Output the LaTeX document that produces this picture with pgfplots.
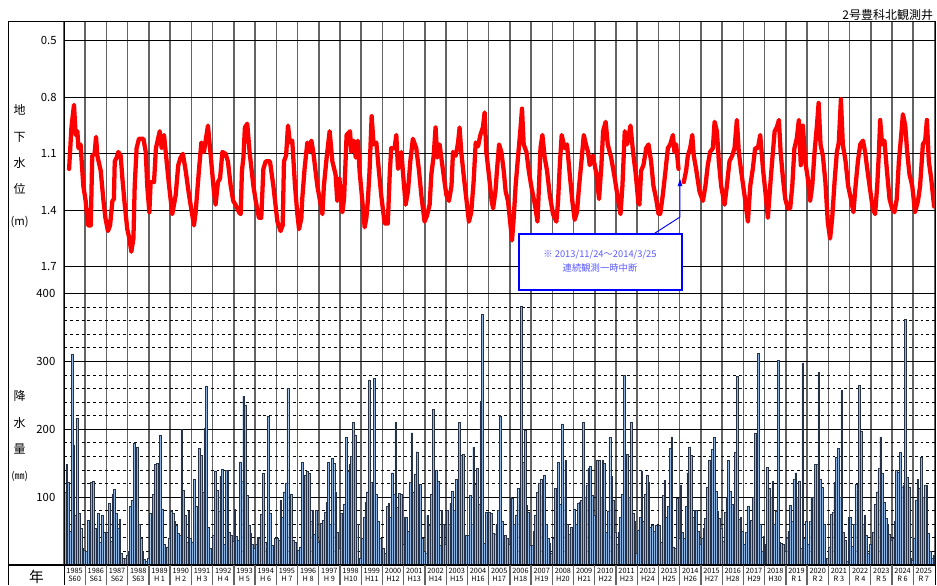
\documentclass[border=0pt]{standalone}
\usepackage{fontspec}
\setmainfont{Noto Sans CJK JP}
\usepackage{pgfplots}
\usepackage{pgfplotstable}
\pgfplotsset{compat=1.18}
\definecolor{barfill}{RGB}{141,180,226}
\definecolor{barline}{RGB}{40,50,70}
\definecolor{annot}{RGB}{0,0,255}
\definecolor{annottext}{RGB}{90,90,255}
\definecolor{vgrid}{RGB}{100,100,100}

\pgfplotstableread{
t v
1985.24 1.18
1985.35 0.96
1985.47 0.84
1985.55 1.00
1985.63 0.98
1985.68 1.07
1985.78 1.05
1985.91 1.27
1986.02 1.35
1986.13 1.48
1986.26 1.48
1986.33 1.11
1986.44 1.10
1986.51 1.01
1986.57 1.11
1986.73 1.19
1986.85 1.34
1986.95 1.44
1987.07 1.51
1987.17 1.48
1987.28 1.35
1987.35 1.34
1987.39 1.14
1987.48 1.12
1987.56 1.09
1987.67 1.11
1987.75 1.23
1987.86 1.37
1987.98 1.50
1988.08 1.55
1988.17 1.62
1988.27 1.55
1988.33 1.27
1988.42 1.07
1988.53 1.02
1988.74 1.02
1988.85 1.09
1988.92 1.27
1989.02 1.41
1989.08 1.25
1989.24 1.25
1989.33 1.07
1989.51 0.98
1989.60 1.07
1989.71 1.00
1989.79 1.09
1989.95 1.27
1990.10 1.42
1990.26 1.32
1990.38 1.16
1990.49 1.12
1990.60 1.10
1990.73 1.19
1990.89 1.32
1991.12 1.48
1991.20 1.41
1991.36 1.18
1991.47 1.04
1991.59 1.09
1991.78 0.95
1991.91 1.11
1992.06 1.30
1992.14 1.37
1992.25 1.25
1992.35 1.23
1992.46 1.09
1992.61 1.10
1992.72 1.14
1992.85 1.27
1992.97 1.35
1993.08 1.37
1993.24 1.41
1993.32 1.42
1993.38 1.19
1993.45 1.12
1993.52 0.96
1993.63 0.94
1993.74 1.09
1993.92 1.27
1994.03 1.35
1994.18 1.44
1994.29 1.44
1994.39 1.18
1994.50 1.14
1994.70 1.14
1994.86 1.27
1995.05 1.46
1995.20 1.51
1995.30 1.48
1995.36 1.14
1995.46 1.11
1995.55 0.95
1995.64 1.04
1995.75 1.03
1995.88 1.27
1995.99 1.42
1996.07 1.50
1996.18 1.44
1996.22 1.34
1996.33 1.18
1996.46 1.04
1996.54 1.09
1996.65 1.03
1996.74 1.09
1996.93 1.27
1997.17 1.42
1997.24 1.27
1997.37 1.12
1997.51 0.98
1997.64 1.14
1997.79 1.21
1997.87 1.35
1997.97 1.23
1998.11 1.41
1998.19 1.34
1998.31 1.00
1998.47 0.98
1998.53 1.09
1998.64 1.03
1998.74 1.12
1998.84 1.03
1998.92 1.19
1999.05 1.35
1999.16 1.49
1999.24 1.44
1999.31 1.35
1999.39 1.19
1999.49 0.90
1999.58 1.05
1999.71 1.04
1999.83 1.19
1999.94 1.32
2000.10 1.47
2000.25 1.47
2000.34 1.21
2000.41 1.07
2000.57 1.07
2000.65 1.00
2000.73 1.18
2000.89 1.09
2001.00 1.25
2001.09 1.37
2001.20 1.30
2001.31 1.14
2001.43 1.02
2001.59 1.07
2001.72 1.19
2001.83 1.32
2001.98 1.46
2002.09 1.43
2002.22 1.37
2002.30 1.21
2002.41 1.11
2002.50 0.96
2002.58 1.12
2002.69 1.05
2002.77 1.12
2002.90 1.23
2003.01 1.32
2003.13 1.35
2003.25 1.27
2003.32 1.09
2003.45 1.11
2003.56 1.04
2003.63 0.96
2003.71 1.09
2003.82 1.21
2003.95 1.34
2004.07 1.46
2004.18 1.41
2004.29 1.25
2004.39 1.04
2004.50 1.06
2004.61 1.00
2004.73 0.96
2004.81 0.88
2004.89 1.09
2005.03 1.23
2005.14 1.35
2005.21 1.39
2005.32 1.30
2005.39 1.19
2005.49 1.05
2005.60 1.09
2005.71 1.19
2005.80 1.30
2005.91 1.35
2006.03 1.48
2006.10 1.56
2006.18 1.44
2006.27 1.27
2006.38 1.12
2006.49 0.98
2006.57 0.86
2006.65 1.05
2006.78 1.09
2006.89 1.19
2007.02 1.28
2007.18 1.37
2007.30 1.46
2007.37 1.27
2007.44 1.07
2007.53 1.00
2007.64 1.12
2007.75 1.19
2007.88 1.32
2008.03 1.42
2008.19 1.46
2008.27 1.35
2008.35 1.16
2008.44 1.00
2008.58 1.07
2008.69 1.05
2008.82 1.21
2008.94 1.35
2009.05 1.45
2009.16 1.41
2009.26 1.27
2009.37 1.14
2009.48 1.00
2009.58 1.05
2009.68 1.09
2009.76 1.16
2009.91 1.11
2010.08 1.21
2010.20 1.34
2010.31 1.16
2010.39 0.98
2010.51 0.93
2010.61 1.05
2010.77 1.12
2010.94 1.23
2011.09 1.34
2011.21 1.42
2011.30 1.27
2011.41 0.98
2011.52 1.05
2011.68 0.95
2011.80 1.09
2011.93 1.21
2012.05 1.36
2012.10 1.37
2012.18 1.19
2012.29 1.16
2012.42 1.07
2012.53 1.05
2012.65 1.14
2012.76 1.27
2012.89 1.34
2013.00 1.42
2013.08 1.42
2013.20 1.32
2013.31 1.21
2013.44 1.07
2013.55 1.05
2013.68 1.00
2013.75 1.09
2013.83 1.05
2013.94 1.18
2014.05 nan
2014.19 1.25
2014.30 1.19
2014.38 1.11
2014.49 1.07
2014.59 1.00
2014.66 1.11
2014.77 1.18
2014.93 1.30
2015.09 1.35
2015.21 1.27
2015.32 1.16
2015.43 1.09
2015.56 1.07
2015.64 0.93
2015.75 0.98
2015.84 1.14
2015.95 1.27
2016.11 1.37
2016.22 1.27
2016.34 1.14
2016.47 1.11
2016.58 1.07
2016.69 0.92
2016.78 1.09
2016.89 1.19
2017.05 1.32
2017.21 1.46
2017.32 1.27
2017.44 1.18
2017.55 1.07
2017.68 1.07
2017.79 1.00
2017.92 1.18
2018.05 1.32
2018.15 1.44
2018.26 1.27
2018.35 1.14
2018.47 0.98
2018.57 0.96
2018.67 0.92
2018.75 1.09
2018.86 1.23
2018.97 1.34
2019.09 1.39
2019.20 1.39
2019.30 1.27
2019.40 1.07
2019.51 1.02
2019.61 0.92
2019.70 1.16
2019.80 0.95
2019.91 1.14
2020.03 1.23
2020.14 1.35
2020.24 1.27
2020.35 1.09
2020.46 0.95
2020.54 0.83
2020.63 1.05
2020.74 1.11
2020.86 1.25
2020.97 1.46
2021.08 1.55
2021.18 1.44
2021.29 1.25
2021.40 1.09
2021.49 1.04
2021.59 0.81
2021.68 1.05
2021.81 1.14
2021.93 1.27
2022.08 1.35
2022.18 1.41
2022.28 1.27
2022.39 1.14
2022.50 1.05
2022.63 1.03
2022.73 1.09
2022.83 1.18
2022.94 1.27
2023.09 1.39
2023.20 1.42
2023.30 1.27
2023.38 1.09
2023.44 0.92
2023.53 1.05
2023.64 1.03
2023.75 1.18
2023.88 1.34
2024.00 1.39
2024.11 1.41
2024.22 1.34
2024.32 1.14
2024.43 1.00
2024.51 0.89
2024.62 0.95
2024.71 1.09
2024.82 1.21
2024.95 1.27
2025.08 1.41
2025.22 1.35
2025.32 1.27
2025.45 1.05
2025.56 1.03
2025.64 0.92
2025.73 1.14
2025.84 1.23
2025.98 1.38
}\water

\pgfplotstableread{
yr m1 m2 m3 m4 m5 m6 m7 m8 m9 m10 m11 m12
1985 108 148 122 50 310 176 73 217 76 54 25 22
1986 20 66 50 122 124 54 46 76 34 74 48 37
1987 49 91 35 105 112 76 54 68 17 10 10 15
1988 20 86 95 180 119 173 60 40 20 8 5 10
1989 76 70 104 148 150 120 191 83 30 25 27 40
1990 80 77 65 59 47 44 200 110 73 34 79 40
1991 34 126 86 60 172 162 108 201 264 56 25 20
1992 44 139 110 80 131 141 30 140 140 49 44 35
1993 82 42 37 152 123 249 236 103 59 47 30 25
1994 30 41 40 75 135 34 27 219 76 29 22 40
1995 40 37 96 70 108 121 261 45 105 37 34 20
1996 22 27 151 100 133 138 135 65 81 45 81 34
1997 37 61 66 78 92 152 60 157 150 108 49 25
1998 76 71 90 188 138 148 160 210 192 60 10 10
1999 39 70 93 108 273 122 118 275 105 65 40 22
2000 25 17 86 91 70 136 105 210 85 106 105 30
2001 70 71 50 122 195 108 134 167 49 119 40 20
2002 17 73 59 105 229 49 140 123 29 81 60 30
2003 81 60 91 109 81 126 100 210 162 163 25 44
2004 44 103 60 174 119 142 90 241 369 32 78 40
2005 78 76 47 45 60 81 220 64 40 44 39 30
2006 100 98 60 74 113 90 382 151 199 88 78 29
2007 29 50 74 107 120 126 103 132 60 39 32 17
2008 40 113 80 152 90 208 100 154 60 45 56 25
2009 83 60 91 93 96 211 100 118 142 145 103 74
2010 60 155 154 100 155 150 48 80 188 131 96 49
2011 30 49 70 105 280 163 163 100 211 76 64 17
2012 52 70 139 64 105 132 122 56 59 50 59 30
2013 59 34 103 125 70 86 172 189 27 25 98 40
2014 118 48 39 86 136 174 162 70 81 81 50 30
2015 40 54 69 114 155 90 170 188 109 80 69 55
2016 35 78 100 154 109 90 67 166 278 68 71 50
2017 30 49 86 65 66 100 194 124 312 60 20 42
2018 30 144 113 100 123 60 80 302 33 32 30 20
2019 40 50 88 64 126 136 100 124 25 298 39 64
2020 30 64 100 100 148 148 284 126 115 60 7 10
2021 27 75 78 122 159 172 100 257 48 37 5 70
2022 70 28 60 119 111 265 197 60 74 44 17 30
2023 30 49 89 108 142 189 135 93 69 60 45 37
2024 40 65 140 137 166 115 118 362 130 114 10 7
2025 40 96 127 113 159 100 118 117 47 20 10 15
}\precip

\begin{document}
\begin{tikzpicture}
\path[use as bounding box] (0pt,0pt) rectangle (702.75pt,-438.75pt);

% groundwater level
\begin{axis}[
  at={(48pt,-210pt)}, anchor=south west,
  width=652.9pt, height=193.5pt, scale only axis,
  xmin=1985, xmax=2026, ymin=0.4, ymax=1.77, y dir=reverse,
  xtick={1985,...,2026}, xticklabels={},
  ytick={0.5,0.8,1.1,1.4,1.7}, yticklabels={0.5,0.8,1.1,1.4,1.7},
  grid=major,
  x grid style={vgrid, line width=1.1pt},
  y grid style={black, line width=0.75pt},
  major tick length=0pt,
  axis line style={draw=none},
  yticklabel style={font=\fontsize{8.5}{9}\selectfont, xshift=-2pt},
  unbounded coords=jump,
]
\addplot[red, line width=3.2pt, line join=round, line cap=round, no markers] table[x=t, y=v] {\water};
\end{axis}

% precipitation
\begin{axis}[
  at={(48pt,-423.75pt)}, anchor=south west,
  width=652.9pt, height=213.75pt, scale only axis,
  xmin=1985, xmax=2026, ymin=0, ymax=420,
  xtick={1985,...,2026}, xticklabels={},
  extra x ticks={1985.5,1986.5,...,2025.5},
  extra x tick labels={{1985\\S60},{1986\\S61},{1987\\S62},{1988\\S63},{1989\\H 1},{1990\\H 2},{1991\\H 3},{1992\\H 4},{1993\\H 5},{1994\\H 6},{1995\\H 7},{1996\\H 8},{1997\\H 9},{1998\\H10},{1999\\H11},{2000\\H12},{2001\\H13},{2002\\H14},{2003\\H15},{2004\\H16},{2005\\H17},{2006\\H18},{2007\\H19},{2008\\H20},{2009\\H21},{2010\\H22},{2011\\H23},{2012\\H24},{2013\\H25},{2014\\H26},{2015\\H27},{2016\\H28},{2017\\H29},{2018\\H30},{2019\\R 1},{2020\\R 2},{2021\\R 3},{2022\\R 4},{2023\\R 5},{2024\\R 6},{2025\\R 7}},
  extra x tick style={grid=none, major tick length=0pt},
  xticklabel style={font=\fontsize{5.5}{6.4}\selectfont, align=center, inner sep=1pt, yshift=-1pt},
  ytick={100,200,300,400}, yticklabels={100,200,300,400},
  minor ytick={20,40,60,80,120,140,160,180,220,240,260,280,320,340,360,380},
  xmajorgrids=true, ymajorgrids=true, yminorgrids=true,
  x grid style={vgrid, line width=1.1pt},
  y grid style={black, line width=0.75pt},
  minor grid style={black!70, line width=0.6pt, dash pattern=on 2.2pt off 2.2pt},
  major tick length=0pt, minor tick length=0pt,
  axis line style={draw=none},
  yticklabel style={font=\fontsize{8.5}{9}\selectfont, xshift=-3pt},
  clip=false,
]
\pgfplotsinvokeforeach{1,2,3,4,5,6,7,8,9,10,11,12}{
  \addplot[ybar, bar shift=0pt, bar width=0.0833, fill=barfill, draw=barline, line width=0.28pt]
    table[x expr=\thisrow{yr}+(#1-0.5)/12, y=m#1] {\precip};
}
\end{axis}

% frame and separators
\draw[black, line width=0.75pt] (6pt,-438.75pt) -- (6pt,-16.5pt) -- (701.25pt,-16.5pt) -- (701.25pt,-438.75pt);
\draw[black, line width=0.75pt] (48pt,-16.5pt) -- (48pt,-438.75pt);
\draw[black, line width=0.9pt] (6pt,-423.75pt) -- (701.25pt,-423.75pt);
\foreach \i in {1,...,40} \draw[vgrid, line width=1pt] ({48pt+\i*15.924pt},-423.75pt) -- ++(0,-15pt);

% titles and axis captions
\node[anchor=east, font=\fontsize{9}{10}\selectfont, inner sep=0pt] at (700pt,-11.5pt) {2号豊科北観測井};
\begin{scope}[every node/.style={font=\fontsize{9}{10}\selectfont, inner sep=0pt}]
\node at (14.8pt,-82.5pt) {地};
\node at (14.8pt,-102.75pt) {下};
\node at (14.8pt,-122.25pt) {水};
\node at (14.8pt,-141.75pt) {位};
\node[font=\fontsize{8.5}{9}\selectfont] at (14.8pt,-166.5pt) {(m)};
\node at (14.8pt,-297pt) {降};
\node at (14.8pt,-317.25pt) {水};
\node at (14.8pt,-336.75pt) {量};
\node[font=\fontsize{7.5}{8}\selectfont] at (14.8pt,-357pt) {(㎜)};
\node[font=\fontsize{11}{12}\selectfont] at (27.4pt,-432.4pt) {年};
\end{scope}

% annotation
\draw[annot, line width=0.7pt] (489pt,-176.25pt) -- (510pt,-162.75pt) -- (510pt,-137pt);
\fill[annot] (510pt,-134pt) -- (508.3pt,-139.5pt) -- (511.7pt,-139.5pt) -- cycle;
\draw[annot, line width=1pt, fill=white] (389.25pt,-175.5pt) rectangle (511.5pt,-217.5pt);
\node[annottext, font=\fontsize{7}{8}\selectfont, inner sep=0pt] at (450pt,-191pt) {※ 2013/11/24～2014/3/25};
\node[annottext, font=\fontsize{7}{8}\selectfont, inner sep=0pt] at (450pt,-201pt) {連続観測一時中断};
\end{tikzpicture}
\end{document}
